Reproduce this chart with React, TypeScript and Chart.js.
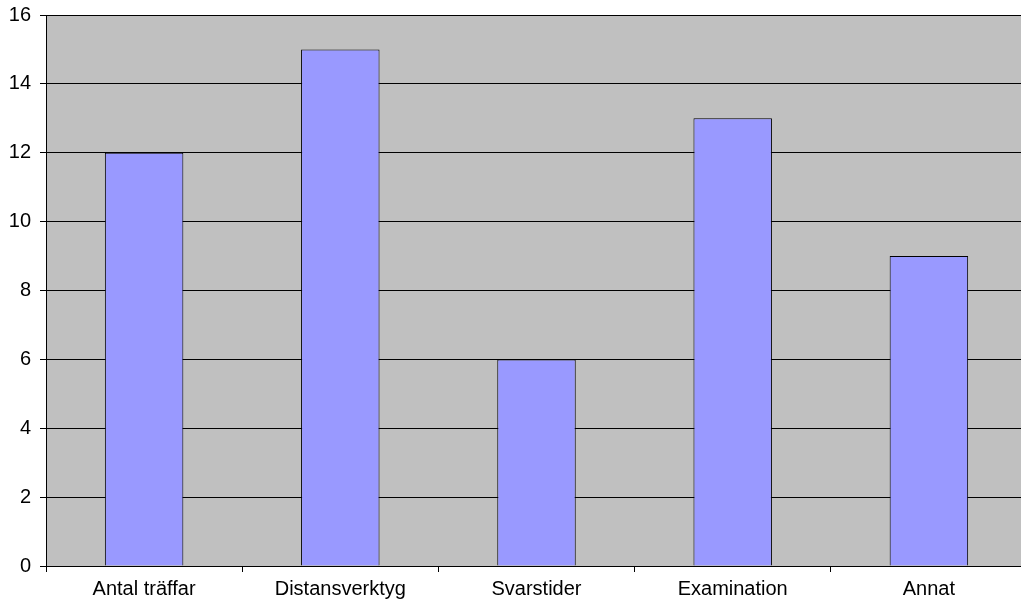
import React, { useEffect, useRef } from "react";
import { Chart, registerables } from "chart.js";

Chart.register(...registerables);

const categories = ["Antal träffar", "Distansverktyg", "Svarstider", "Examination", "Annat"];
const values = [12, 15, 6, 13, 9];
const yMin = 0;
const yMax = 16;
const yStep = 2;

const bgPlugin = {
  id: "plotBg",
  beforeDraw(chart: any) {
    const { ctx, chartArea } = chart;
    ctx.save();
    ctx.fillStyle = "#C0C0C0";
    ctx.fillRect(chartArea.left, chartArea.top, chartArea.right - chartArea.left, chartArea.bottom - chartArea.top);
    ctx.restore();
  },
};

const FONT = "'Liberation Sans', Arial, sans-serif";

export default function App() {
  const ref = useRef<HTMLCanvasElement>(null);
  useEffect(() => {
    if (!ref.current) return;
    const chart = new Chart(ref.current, {
      type: "bar",
      data: {
        labels: categories,
        datasets: [
          {
            data: values,
            backgroundColor: "#9999FF",
            borderColor: "#000000",
            borderWidth: 1,
            barPercentage: 0.4,
            categoryPercentage: 1,
          },
        ],
      },
      options: {
        animation: false,
        responsive: false,
        maintainAspectRatio: false,
        layout: { padding: { top: 15, left: 0, right: 0, bottom: 0 } },
        plugins: { legend: { display: false }, tooltip: { enabled: false } },
        scales: {
          x: {
            offset: true,
            grid: {
              offset: true,
              drawOnChartArea: false,
              drawTicks: true,
              tickLength: 6,
              color: "#000000",
            },
            border: { color: "#000000", width: 1 },
            ticks: {
              color: "#000000",
              font: { family: FONT, size: 20 },
              padding: 5,
              maxRotation: 0,
              autoSkip: false,
            },
            afterFit(scale: any) {
              scale.height = 39;
              scale.paddingLeft = 0;
              scale.paddingRight = 0;
            },
          },
          y: {
            min: yMin,
            max: yMax,
            ticks: {
              stepSize: yStep,
              color: "#000000",
              font: { family: FONT, size: 20 },
              padding: 9,
            },
            grid: {
              color: "#000000",
              tickLength: 6,
              drawTicks: true,
            },
            border: { color: "#000000", width: 1 },
            afterFit(scale: any) {
              scale.width = 46;
              scale.paddingTop = 0;
              scale.paddingBottom = 0;
            },
          },
        },
      },
      plugins: [bgPlugin],
    });
    return () => chart.destroy();
  }, []);
  return (
    <div style={{ position: "fixed", left: 0, top: 0, width: 1027, height: 605, background: "#fff" }}>
      <canvas ref={ref} width={1027} height={605} style={{ display: "block" }} />
    </div>
  );
}
